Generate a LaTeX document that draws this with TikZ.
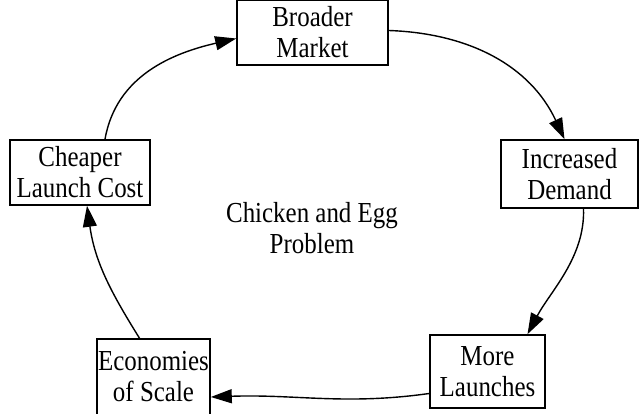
\documentclass[tikz,border=0pt]{standalone}
\usepackage{fontspec}
\setmainfont[FakeStretch=0.86]{Liberation Serif}
\usetikzlibrary{arrows.meta, positioning}

\begin{document}
\begin{tikzpicture}[x=1pt, y=1pt,
    stage/.style={draw, line width=1.6pt, align=center, inner sep=0pt,
        font=\fontsize{29}{31}\selectfont},
    flow/.style={line width=1.4pt, -{Triangle[length=21pt, width=14pt]}}]
    \useasboundingbox (0,0) rectangle (639,414);

    % Stages of the cycle
    \node[stage, minimum width=151pt, minimum height=65pt] (market) at (312.5,381.5) {Broader\\Market};
    \node[stage, minimum width=137pt, minimum height=68pt] (demand) at (569.5,240) {Increased\\Demand};
    \node[stage, minimum width=115pt, minimum height=73pt] (more) at (487.5,42.5) {More\\Launches};
    \node[stage, minimum width=113pt, minimum height=76pt] (scale) at (153.5,37) {Economies\\of Scale};
    \node[stage, minimum width=140pt, minimum height=65pt] (cheap) at (80,241.5) {Cheaper\\Launch Cost};

    % Centre label
    \node[align=center, font=\fontsize{29}{31}\selectfont] (chicken) at (312,186) {Chicken and Egg\\Problem};

    % Arrows round the cycle
    \draw[flow] ([xshift=25pt]cheap.north) to[out=80, in=193] ([yshift=-6pt]market.west);
    \draw[flow] ([yshift=2pt]market.east) to[out=-2, in=115] ([xshift=-5pt]demand.north);
    \draw[flow] ([xshift=14pt]demand.south) to[out=-88, in=62, looseness=0.9] ([xshift=40pt]more.north);
    \draw[flow] ([yshift=-22pt]more.west) to[out=188, in=2] ([yshift=-20pt]scale.east);
    \draw[flow] ([xshift=-14pt]scale.north) to[out=122, in=-82] ([xshift=7pt]cheap.south);
\end{tikzpicture}
\end{document}
